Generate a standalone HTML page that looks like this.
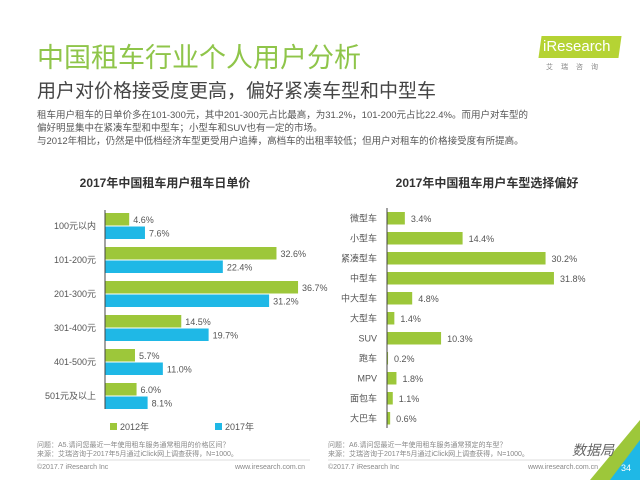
<!DOCTYPE html>
<html><head><meta charset="utf-8"><style>
body{margin:0;width:640px;height:480px;background:#fff;overflow:hidden;position:relative;font-family:"Liberation Sans","Noto Sans CJK SC",sans-serif;color:#555}
.abs{position:absolute;white-space:nowrap}
</style></head><body>
<div class="abs" style="left:37px;top:36px;font-size:27px;color:#8fc54a">中国租车行业个人用户分析</div>
<div class="abs" style="left:37px;top:76px;font-size:19px;color:#444">用户对价格接受度更高，偏好紧凑车型和中型车</div>
<div class="abs" style="left:37px;top:109px;font-size:9.5px;line-height:13px;color:#555">租车用户租车的日单价多在101-300元，其中201-300元占比最高，为31.2%，101-200元占比22.4%。而用户对车型的<br>偏好明显集中在紧凑车型和中型车；小型车和SUV也有一定的市场。<br>与2012年相比，仍然是中低档经济车型更受用户追捧，高档车的出租率较低；但用户对租车的价格接受度有所提高。</div>
<div class="abs" style="left:540px;top:36px;width:80px;height:22px;background:#b5d334;transform:skewX(-8deg)"></div>
<div class="abs" style="left:543px;top:38px;font-size:15px;color:#fff">iResearch</div>
<div class="abs" style="left:546px;top:62px;font-size:7px;color:#888;letter-spacing:8px">艾瑞咨询</div>
<svg class="abs" style="left:0;top:0" width="640" height="480" id="svg">
<polygon points="640,420 640,480 590,480" fill="#9dc73a"/>
<polygon points="640,440 640,480 610,480" fill="#1fb8e6"/>
</svg>
<div class="abs" style="left:37px;top:441px;font-size:7px;line-height:9px;color:#888">问题：A5.请问您最近一年使用租车服务通常租用的价格区间？<br>来源：艾瑞咨询于2017年5月通过iClick网上调查获得，N=1000。</div>
<div class="abs" style="left:328px;top:441px;font-size:7px;line-height:9px;color:#888">问题：A6.请问您最近一年使用租车服务通常预定的车型？<br>来源：艾瑞咨询于2017年5月通过iClick网上调查获得，N=1000。</div>
<div class="abs" style="left:37px;top:464px;font-size:7px;color:#888">©2017.7 iResearch Inc</div>
<div class="abs" style="left:235px;top:464px;font-size:7px;color:#888">www.iresearch.com.cn</div>
<div class="abs" style="left:328px;top:464px;font-size:7px;color:#888">©2017.7 iResearch Inc</div>
<div class="abs" style="left:528px;top:464px;font-size:7px;color:#888">www.iresearch.com.cn</div>
<div class="abs" style="left:572px;top:440px;font-size:14px;color:#666;font-style:italic">数据局</div>
<div class="abs" style="left:621px;top:463px;font-size:9px;color:#fff">34</div>
<script>
const priceCats=["100元以内","101-200元","201-300元","301-400元","401-500元","501元及以上"];
const price2012=[4.6,32.6,36.7,14.5,5.7,6.0];
const price2017=[7.6,22.4,31.2,19.7,11.0,8.1];
const carCats=["微型车","小型车","紧凑型车","中型车","中大型车","大型车","SUV","跑车","MPV","面包车","大巴车"];
const carVals=[3.4,14.4,30.2,31.8,4.8,1.4,10.3,0.2,1.8,1.1,0.6];
const svg=document.getElementById('svg');const NS="http://www.w3.org/2000/svg";
function mk(t,a,txt){const e=document.createElementNS(NS,t);for(const k in a)e.setAttribute(k,a[k]);if(txt!==undefined)e.textContent=txt;svg.appendChild(e);return e;}
const G="#9dc73a",B="#1fb8e6",F='"Liberation Sans","Noto Sans CJK SC",sans-serif';
// left chart
const lx=v=>105+v*5.26, ly=i=>213+i*34;
let e=mk('text',{x:165,y:187,'text-anchor':'middle','font-size':12,'font-weight':'bold',fill:'#333','font-family':F},'2017年中国租车用户租车日单价');


priceCats.forEach((c,i)=>{
 e=mk('text',{x:96,y:ly(i)+16,'text-anchor':'end','font-size':9,fill:'#555','font-family':F},c);
 
 
 e=mk('rect',{x:105,y:ly(i),width:lx(price2012[i])-105,height:12.5,fill:G});
 
 
 e=mk('text',{x:lx(price2012[i])+4,y:ly(i)+10,'font-size':9,fill:'#555','font-family':F},price2012[i].toFixed(1)+'%');
 
 
 e=mk('rect',{x:105,y:ly(i)+13.5,width:lx(price2017[i])-105,height:12.5,fill:B});
 
 
 e=mk('text',{x:lx(price2017[i])+4,y:ly(i)+23.5,'font-size':9,fill:'#555','font-family':F},price2017[i].toFixed(1)+'%');
 
 
});
e=mk('line',{x1:105,y1:210,x2:105,y2:409,stroke:'#444','stroke-width':1});


e=mk('rect',{x:110,y:423,width:7,height:7,fill:G});


e=mk('text',{x:120,y:430,'font-size':9,fill:'#555','font-family':F},'2012年');


e=mk('rect',{x:215,y:423,width:7,height:7,fill:B});


e=mk('text',{x:225,y:430,'font-size':9,fill:'#555','font-family':F},'2017年');


// right chart
const rx=v=>387+v*5.25, ry=i=>212+i*20;
e=mk('text',{x:487,y:187,'text-anchor':'middle','font-size':12,'font-weight':'bold',fill:'#333','font-family':F},'2017年中国租车用户车型选择偏好');


carCats.forEach((c,i)=>{
 e=mk('text',{x:377,y:ry(i)+9.5,'text-anchor':'end','font-size':9,fill:'#555','font-family':F},c);
 
 
 e=mk('rect',{x:387,y:ry(i),width:rx(carVals[i])-387,height:12.5,fill:G});
 
 
 e=mk('text',{x:rx(carVals[i])+6,y:ry(i)+10,'font-size':9,fill:'#555','font-family':F},carVals[i].toFixed(1)+'%');
 
 
});
e=mk('line',{x1:387,y1:208,x2:387,y2:428,stroke:'#444','stroke-width':1});


[[37,310],[328,600]].forEach(p=>{
 e=mk('line',{x1:p[0],y1:460,x2:p[1],y2:460,stroke:'#bbb','stroke-width':0.6});
 
 
});
</script>
</body></html>
